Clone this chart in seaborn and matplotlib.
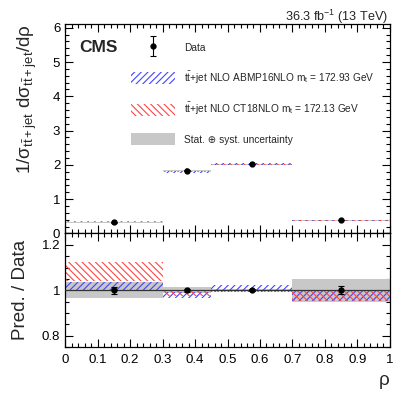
#!/usr/bin/env python3

import matplotlib
matplotlib.use("Agg")
import seaborn as sns
from matplotlib import pyplot as plt
from matplotlib import patches as mpatches
from matplotlib.container import ErrorbarContainer
from matplotlib.legend_handler import HandlerErrorbar
from matplotlib.ticker import MultipleLocator, FormatStrFormatter

# rho binning
bin_edges = [0.0, 0.3, 0.45, 0.7, 1.0]
bin_centers = [0.15, 0.375, 0.575, 0.85]
# normalised differential cross section (data)
data_val = [0.32, 1.83, 2.02, 0.385]
data_err_rel = [0.015, 0.006, 0.004, 0.018]
# stat. + syst. band relative to data
unc_lo = [0.965, 0.988, 0.995, 0.948]
unc_hi = [1.035, 1.013, 1.005, 1.050]
# predictions / data
abmp_lo = [0.998, 0.966, 0.994, 0.952]
abmp_hi = [1.036, 0.994, 1.024, 1.000]
ct18_lo = [1.042, 0.975, 0.990, 0.952]
ct18_hi = [1.123, 0.999, 1.003, 1.000]

BLUE = "#4444ff"
RED = "#ff4444"
GREY = "#c8c8c8"
HATCH_B = "/////"
HATCH_R = "\\\\\\\\\\"


def draw_bands(ax, scale):
    """Draw grey uncertainty and hatched prediction bands, scaled per bin."""
    left = bin_edges[:-1]
    width = [b - a for a, b in zip(bin_edges[:-1], bin_edges[1:])]
    lo = [s * v for s, v in zip(scale, unc_lo)]
    hi = [s * v for s, v in zip(scale, unc_hi)]
    ax.bar(left, [h - l for h, l in zip(hi, lo)], bottom=lo, width=width,
           align="edge", color=GREY, lw=0, zorder=1)
    for blo, bhi, col, hatch in [(abmp_lo, abmp_hi, BLUE, HATCH_B),
                                 (ct18_lo, ct18_hi, RED, HATCH_R)]:
        lo = [s * v for s, v in zip(scale, blo)]
        hi = [s * v for s, v in zip(scale, bhi)]
        ax.bar(left, [h - l for h, l in zip(hi, lo)], bottom=lo, width=width,
               align="edge", facecolor="none", edgecolor=col, hatch=hatch,
               lw=0, zorder=2)


def draw_data(ax, vals):
    errs = [v * e for v, e in zip(vals, data_err_rel)]
    cont = ax.errorbar(bin_centers, vals, yerr=errs, fmt="o", color="black",
                       ms=3.5, elinewidth=0.8, capsize=2, capthick=0.8,
                       zorder=4, label="Data")
    sns.scatterplot(x=bin_centers, y=vals, ax=ax, color="black", s=11,
                    edgecolor="none", zorder=5, legend=False)
    return cont


def style_axis(ax):
    ax.set_xlim(0, 1)
    ax.xaxis.set_major_locator(MultipleLocator(0.1))
    ax.xaxis.set_minor_locator(MultipleLocator(0.02))
    ax.tick_params(which="both", direction="in", top=True, right=True,
                   width=0.8, labelsize=9.5, colors="black")
    ax.tick_params(which="major", length=6)
    ax.tick_params(which="minor", length=3)
    for sp in ax.spines.values():
        sp.set_linewidth(0.9)
        sp.set_color("black")


sns.set_theme(style="ticks")
plt.rcParams["font.family"] = ["Liberation Sans", "DejaVu Sans"]
plt.rcParams["mathtext.fontset"] = "custom"
plt.rcParams["mathtext.rm"] = "Liberation Sans"
plt.rcParams["mathtext.it"] = "Liberation Sans"
plt.rcParams["hatch.linewidth"] = 0.8

fig = plt.figure(figsize=(4.07, 3.95), dpi=100)
ax = fig.add_axes([0.160, 0.409, 0.798, 0.5295])
rax = fig.add_axes([0.160, 0.1215, 0.798, 0.2875])

# top panel
draw_bands(ax, data_val)
data_cont = draw_data(ax, data_val)
style_axis(ax)
ax.set_ylim(0, 6.1)
ax.yaxis.set_major_locator(MultipleLocator(1))
ax.yaxis.set_minor_locator(MultipleLocator(0.2))
ax.tick_params(axis="x", labelbottom=False)
ax.set_ylabel(r"1/σ$_{\mathrm{t\bar{t}+jet}}$ dσ$_{\mathrm{t\bar{t}+jet}}$/dρ",
              fontsize=13.5, loc="top")
ax.yaxis.set_label_coords(-0.08, 1.0)

ax.text(0.043, 0.925, "CMS", transform=ax.transAxes, weight="bold",
        fontsize=12.5, va="top", ha="left")
fig.text(0.953, 0.947, r"36.3 fb$^{-1}$ (13 TeV)", ha="right",
         va="baseline", fontsize=9.1)

handles = [
    data_cont,
    mpatches.Patch(facecolor="none", edgecolor=BLUE, hatch=HATCH_B, lw=0),
    mpatches.Patch(facecolor="none", edgecolor=RED, hatch=HATCH_R, lw=0),
    mpatches.Patch(facecolor=GREY, lw=0),
]
labels = [
    "Data",
    r"$\mathrm{t\bar{t}}$+jet NLO ABMP16NLO m$_\mathrm{t}$ = 172.93 GeV",
    r"$\mathrm{t\bar{t}}$+jet NLO CT18NLO m$_\mathrm{t}$ = 172.13 GeV",
    "Stat. ⊕ syst. uncertainty",
]
ax.legend(handles, labels, loc="upper left", bbox_to_anchor=(0.203, 0.918),
          frameon=False, fontsize=7.3, handlelength=4.3, handleheight=1.5,
          handletextpad=0.95, labelspacing=1.55, borderpad=0, borderaxespad=0,
          handler_map={ErrorbarContainer: HandlerErrorbar(yerr_size=1.0)})

# ratio panel
draw_bands(rax, [1.0] * 4)
rax.axhline(1.0, color="#333333", lw=0.9, zorder=3)
draw_data(rax, [1.0] * 4)
style_axis(rax)
rax.set_ylim(0.75, 1.25)
rax.yaxis.set_major_locator(MultipleLocator(0.2))
rax.yaxis.set_minor_locator(MultipleLocator(0.05))
rax.yaxis.set_major_formatter(FormatStrFormatter("%g"))
rax.xaxis.set_major_formatter(FormatStrFormatter("%g"))
rax.tick_params(axis="x", pad=5)
rax.set_ylabel("Pred. / Data", fontsize=13.5)
rax.yaxis.set_label_coords(-0.112, 0.5)
rax.set_xlabel("ρ", fontsize=13.5, loc="right")

fig.savefig("out.png", dpi=100)
